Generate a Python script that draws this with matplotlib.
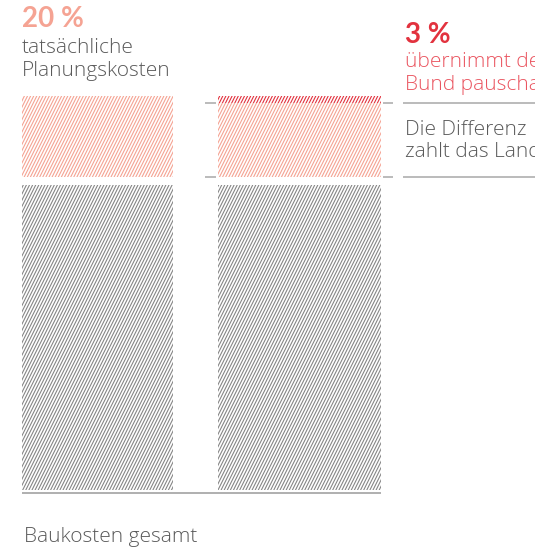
import matplotlib
matplotlib.use("Agg")
import matplotlib.pyplot as plt
import numpy as np
from matplotlib.collections import LineCollection
from matplotlib.transforms import IdentityTransform

# values as drawn in the reference (bar heights in chart units)
bars = ['Planungskosten', 'Finanzierung']
baukosten = [100, 100]
planung = [26.5, 26.5]
bund = [0, 2.3]
gap = 2.6

pct_planung = '20 %'
pct_bund = '3 %'

W, H = 535, 548
fig = plt.figure(figsize=(W / 100, H / 100), dpi=100)
ax = fig.add_axes([0, 0, 1, 1])
ax.set_xlim(0, W)
px = 3.05  # pixels per unit
ax.set_ylim(-58 / px, (H - 58) / px)
ax.axis('off')

GRAY = '#868686'
PINK = '#f5a393'
RED = '#e2323e'
TXT = '#5a5a5a'

xs = [22, 218]
ws = [151, 163]


def hatch(patch, color):
    patch.set_facecolor('none')
    patch.set_edgecolor('none')
    segs = [[(c, 0), (c + H / 2.0, H)] for c in np.arange(-400, W + 50, 3.1)]
    lc = LineCollection(segs, colors=color, linewidths=0.8,
                        transform=IdentityTransform())
    ax.add_collection(lc)
    lc.set_clip_path(patch)


for i in range(len(bars)):
    b = ax.bar(xs[i], baukosten[i], width=ws[i], bottom=0, align='edge')
    hatch(b[0], GRAY)
    b = ax.bar(xs[i], planung[i] - bund[i], width=ws[i],
               bottom=baukosten[i] + gap, align='edge')
    hatch(b[0], PINK)
    if bund[i] > 0:
        b = ax.bar(xs[i], bund[i], width=ws[i],
                   bottom=baukosten[i] + gap + planung[i] - bund[i], align='edge')
        hatch(b[0], RED)

# baseline
ax.plot([22, 381], [-1, -1], color='#9a9a9a', lw=1.1, solid_capstyle='butt')

# marker lines for the Land share
y_top = baukosten[1] + gap + planung[1] - bund[1]
y_bot = baukosten[1] + gap
for y in (y_top, y_bot):
    ax.plot([205, 216], [y, y], color='#a8a8a8', lw=1.1, solid_capstyle='butt')
    ax.plot([383, 393], [y, y], color='#a8a8a8', lw=1.1, solid_capstyle='butt')
    ax.plot([403, W], [y, y], color='#a8a8a8', lw=1.1, solid_capstyle='butt')


def label(x, base, s, color, size, weight=300, fam='Open Sans'):
    fig.text(x / W, 1 - base / H, s, color=color, fontsize=size,
             fontweight=weight, family=[fam, 'DejaVu Sans'],
             ha='left', va='baseline')


label(22, 27, pct_planung, PINK, 20, 'bold', 'Lato')
label(22, 53, 'tatsächliche', TXT, 15)
label(22, 76, 'Planungskosten', TXT, 15)

label(405, 43, pct_bund, RED, 20, 'bold', 'Lato')
label(405, 67, 'übernimmt der', '#ea5560', 15)
label(405, 90, 'Bund pauschal', '#ea5560', 15)
label(405, 135, 'Die Differenz', TXT, 15)
label(405, 157, 'zahlt das Land', TXT, 15)

label(24, 542, 'Baukosten gesamt', TXT, 15)

fig.savefig('out.png', dpi=100)
